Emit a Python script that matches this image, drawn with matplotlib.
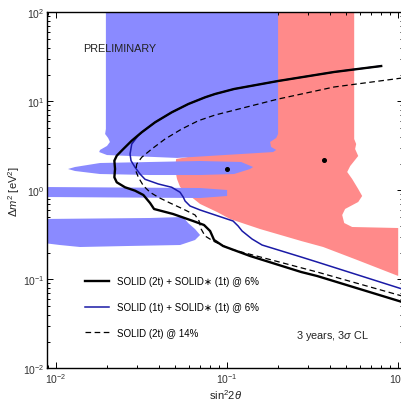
import numpy as np
import matplotlib
matplotlib.use('Agg')
import matplotlib.pyplot as plt
from matplotlib.ticker import LogLocator, FuncFormatter, NullFormatter

plt.rcParams['font.family'] = ['Liberation Sans', 'DejaVu Sans']
plt.rcParams['mathtext.fontset'] = 'custom'
plt.rcParams['mathtext.rm'] = 'Liberation Sans'
plt.rcParams['mathtext.it'] = 'Liberation Sans:italic'
plt.rcParams['mathtext.bf'] = 'Liberation Sans:bold'

# ---------------- data (sin^2 2theta, dm^2 [eV^2]) ----------------
# blue allowed region (bands)
blueA_x = [0.0197, 0.200, 0.200, 0.195, 0.1796, 0.182, 0.195, 0.187, 0.0513, 0.0200,
           0.0180, 0.0182, 0.0200, 0.0208, 0.0203, 0.0195, 0.0197]
blueA_y = [100, 100, 4.29, 3.87, 3.49, 3.07, 2.84, 2.69, 2.31, 2.49,
           2.69, 2.84, 3.15, 3.49, 3.87, 4.29, 4.885]
blueB_x = [0.01183, 0.0130, 0.0182, 0.0357, 0.070, 0.1216, 0.1429, 0.1372, 0.1106,
           0.070, 0.0357, 0.0182, 0.0130]
blueB_y = [1.735, 1.827, 2.026, 2.08, 2.134, 2.08, 1.827, 1.735, 1.524,
           1.485, 1.485, 1.524, 1.648]
blueC_x = [0.0085, 0.070, 0.1007, 0.1007, 0.070, 0.0085]
blueC_y = [1.089, 1.061, 1.008, 0.863, 0.819, 0.841]
blueD_x = [0.0085, 0.0357, 0.0557, 0.0596, 0.0654, 0.070, 0.0654, 0.0535, 0.0262,
           0.0139, 0.0106, 0.0085]
blueD_y = [0.476, 0.4885, 0.501, 0.429, 0.367, 0.3146, 0.2764, 0.2428, 0.2366,
           0.2306, 0.2428, 0.2557]

# red allowed region
red_x = [0.1796, 0.557, 0.557, 0.572, 0.564, 0.588, 0.528, 0.507, 0.542, 0.588,
         0.620, 0.588, 0.493, 0.474, 0.487, 0.542, 1.007, 1.007, 0.580, 0.367,
         0.273, 0.157, 0.1048, 0.088, 0.070, 0.0612, 0.0535, 0.0513, 0.050,
         0.0507, 0.070, 0.168, 0.1796]
red_y = [100, 100, 3.77, 3.31, 2.91, 2.43, 1.875, 1.606, 1.34, 1.034,
         0.863, 0.739, 0.617, 0.528, 0.429, 0.387, 0.377, 0.109, 0.1648, 0.2306,
         0.2693, 0.367, 0.476, 0.570, 0.702, 0.863, 1.089, 1.34, 1.735,
         2.248, 2.493, 2.91, 3.77]

# best-fit points
best_x = [0.1007, 0.3716]
best_y = [1.735, 2.19]

# SOLID (2t) + SOLID* (1t) @ 6%
s2_x = [0.801, 0.4253, 0.200, 0.1106, 0.0856, 0.0749, 0.0598, 0.0478, 0.0382, 0.0319,
        0.0279, 0.02491, 0.0228, 0.02208, 0.02228, 0.02208, 0.0228, 0.02549, 0.02917,
        0.03262, 0.03414, 0.0357, 0.03767, 0.04866, 0.06369, 0.0738, 0.0801, 0.0845,
        0.0954, 0.1372, 0.2728, 0.3382, 1.062]
s2_y = [24.9, 21.35, 16.91, 13.75, 12.08, 11.09, 9.33, 7.52, 5.81, 4.485,
        3.61, 2.911, 2.448, 2.151, 1.735, 1.40, 1.23, 1.081, 0.990,
        0.886, 0.798, 0.720, 0.6165, 0.5417, 0.4519, 0.4075, 0.3489, 0.2764,
        0.2366, 0.1827, 0.1208, 0.1089, 0.0556]

# SOLID (1t) + SOLID* (1t) @ 6%
s1_x = [0.801, 0.4253, 0.200, 0.1106, 0.0856, 0.0749, 0.0598, 0.0478, 0.0382, 0.0319,
        0.0304, 0.0279, 0.02727, 0.02763, 0.02917, 0.0312, 0.03337, 0.03993, 0.0478,
        0.05346, 0.05589, 0.0572, 0.06117, 0.070, 0.1091, 0.1168, 0.1232, 0.1409,
        0.1612, 0.2728, 0.3382, 1.062]
s1_y = [24.9, 21.35, 16.91, 13.75, 12.08, 11.09, 9.33, 7.52, 5.81, 4.485,
        4.107, 3.313, 2.555, 2.151, 1.813, 1.523, 1.329, 1.177, 1.081,
        0.950, 0.834, 0.758, 0.666, 0.6008, 0.4519, 0.397, 0.3489, 0.2836,
        0.2428, 0.178, 0.1564, 0.0778]

# SOLID (2t) @ 14%
s3_x = [1.062, 0.4253, 0.200, 0.0856, 0.0684, 0.0547, 0.0437, 0.03652, 0.0319,
        0.02985, 0.02944, 0.0305, 0.03262, 0.0357, 0.03993, 0.0467, 0.05567, 0.06543,
        0.06906, 0.0710, 0.07484, 0.0834, 0.1048, 0.3382, 1.062]
s3_y = [18.27, 14.48, 10.6, 7.01, 6.053, 4.885, 3.771, 2.911, 2.348,
        1.975, 1.658, 1.40, 1.126, 0.950, 0.834, 0.720, 0.6165, 0.5279,
        0.4519, 0.3673, 0.3065, 0.2693, 0.219, 0.1208, 0.0649]

labels = ['SOLID (2t) + SOLID\u2217 (1t) @ 6%',
          'SOLID (1t) + SOLID\u2217 (1t) @ 6%',
          'SOLID (2t) @ 14%']

x_range = [10 ** -2.048, 10 ** 0.03]
y_range = [1e-2, 1e2]

# ---------------- figure ----------------
fig = plt.figure(figsize=(4.02, 4.02), dpi=100)
ax = fig.add_axes([47.3 / 402, (402 - 369.3) / 402, 355.5 / 402, 356 / 402])
ax.set_xscale('log')
ax.set_yscale('log')
ax.set_xlim(x_range)
ax.set_ylim(y_range)

blue_fill = '#8a8aff'
red_fill = '#ff8a8a'
ax.fill(red_x, red_y, color=red_fill, lw=0, zorder=1)
for bx, by in [(blueA_x, blueA_y), (blueB_x, blueB_y), (blueC_x, blueC_y), (blueD_x, blueD_y)]:
    ax.fill(bx, by, color=blue_fill, lw=0, zorder=2)

ax.plot(best_x, best_y, 'o', color='black', ms=2.6, zorder=3)

ax.plot(s1_x, s1_y, color='#1a1aa6', lw=1.1, zorder=4, label=labels[1],
        solid_joinstyle='round')
ax.plot(s3_x, s3_y, color='black', lw=0.9, dashes=(4.5, 2.8), zorder=5, label=labels[2])
ax.plot(s2_x, s2_y, color='black', lw=1.7, zorder=6, label=labels[0],
        solid_joinstyle='round')

h, l = ax.get_legend_handles_labels()
order = [2, 0, 1]
leg = ax.legend([h[i] for i in order], [l[i] for i in order], loc='upper left',
                bbox_to_anchor=(0.105, 0.258), frameon=False, fontsize=7,
                handlelength=2.5, handletextpad=0.8, labelspacing=1.6,
                borderpad=0, borderaxespad=0)

ax.text(0.1004, 0.8997, 'PRELIMINARY', transform=ax.transAxes, fontsize=7.8,
        va='center', ha='left', color='#222222')
ax.text(0.6996, 0.0935, '3 years, 3$\\sigma$ CL', transform=ax.transAxes, fontsize=7.8,
        va='center', ha='left', color='#222222')

ax.set_xlabel('sin$^2$2$\\theta$', fontsize=8, labelpad=1.5, color='#222222')
ax.set_ylabel('$\\Delta m^2$ [eV$^2$]', fontsize=8, labelpad=0.5, color='#222222')

fmt = FuncFormatter(lambda v, p: '$10^{%d}$' % int(round(np.log10(v))))
for axis in (ax.xaxis, ax.yaxis):
    axis.set_major_locator(LogLocator(base=10, numticks=10))
    axis.set_minor_locator(LogLocator(base=10, subs=np.arange(2, 10), numticks=10))
    axis.set_major_formatter(fmt)
    axis.set_minor_formatter(NullFormatter())
ax.tick_params(which='both', direction='in', top=True, right=True, labelsize=7.5,
               labelcolor='#333333', width=0.7)
ax.tick_params(which='major', length=4, pad=2)
ax.tick_params(which='minor', length=2)
for s in ax.spines.values():
    s.set_linewidth(1.0)
ax.spines['right'].set_visible(False)
ax.set_zorder(1)

fig.savefig('out.png', dpi=100)
